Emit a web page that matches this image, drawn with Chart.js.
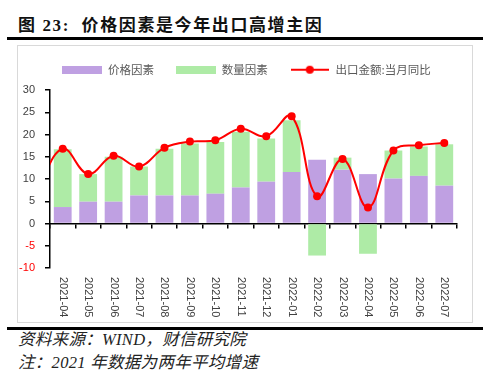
<!DOCTYPE html>
<html>
<head>
<meta charset="utf-8">
<script src="https://cdn.jsdelivr.net/npm/chart.js@4.4.0/dist/chart.umd.min.js"></script>
<style>
body { margin: 0; width: 500px; height: 381px; background: #fff; position: relative; overflow: hidden;
  font-family: "Liberation Serif", "Noto Sans CJK SC", serif; }
.title { position: absolute; left: 18px; top: 15px; line-height: 22px; font-size: 17px; font-weight: bold; letter-spacing: 1.6px; color: #111; }
.rule { position: absolute; left: 7px; width: 476px; height: 3px; background: #000; }
.box { position: absolute; left: 17px; top: 45px; width: 454px; height: 276px; border: 1px solid #d9d9d9; }
#wrap { position: absolute; left: 18px; top: 42px; width: 453px; height: 279px; }
.note { position: absolute; left: 18px; line-height: 22px; font-size: 16.5px; letter-spacing: 0.3px; font-style: italic; color: #222; }
</style>
</head>
<body>
<div class="title">图 23:&nbsp; 价格因素是今年出口高增主因</div>
<div class="rule" style="top:37px"></div>
<div class="box"></div>
<div id="wrap"><canvas id="chart"></canvas></div>
<div class="rule" style="top:327px"></div>
<div class="note" style="top:329px">资料来源：WIND，财信研究院</div>
<div class="note" style="top:352px">注：2021 年数据为两年平均增速</div>
<script>
// 2021-03 sits just left of the axis: only the start of the red line shows
var months = ['2021-03', '2021-04', '2021-05', '2021-06', '2021-07', '2021-08', '2021-09', '2021-10', '2021-11',
  '2021-12', '2022-01', '2022-02', '2022-03', '2022-04', '2022-05', '2022-06', '2022-07'];
var priceFactor = [null, 3.7, 4.9, 4.9, 6.3, 6.3, 6.3, 6.7, 8.1, 9.4, 11.6, 14.3, 12.1, 11.1, 10.1, 10.7, 8.5];
var volumeFactor = [null, 13.0, 6.2, 10.1, 6.5, 10.5, 11.7, 11.6, 12.5, 9.7, 11.6, -7.2, 2.7, -6.8, 6.3, 6.6, 9.3];
var exportYoy = [7.5, 16.8, 11.1, 15.2, 12.8, 17.0, 18.4, 18.7, 21.3, 19.6, 24.1, 6.1, 14.5, 3.6, 16.4, 17.6, 18.1];
var yMin = -10, yMax = 30, yStep = 5;

var purple = '#bfa0e2';
var green = '#aeeba6';
var red = '#ff0000';

function boxIcon(color) {
    var c = document.createElement('canvas');
    c.width = 40; c.height = 8;
    var g = c.getContext('2d');
    g.fillStyle = color;
    g.fillRect(0, 0, 40, 8);
    return c;
}

function lineIcon(color) {
    var c = document.createElement('canvas');
    c.width = 38; c.height = 10;
    var g = c.getContext('2d');
    g.strokeStyle = color;
    g.lineWidth = 2;
    g.beginPath(); g.moveTo(0, 5); g.lineTo(38, 5); g.stroke();
    g.fillStyle = color;
    g.beginPath(); g.arc(19, 5, 4, 0, Math.PI * 2); g.fill();
    return c;
}

var legendIcons = [boxIcon(purple), boxIcon(green), lineIcon(red)];

// a bit more room between legend and plot than chart.js gives,
// and the legend sits a little right of the canvas centre
var legendGap = {
    id: 'legendGap',
    afterInit: function(chart) {
        var fit = chart.legend.fit;
        chart.legend.fit = function() {
            fit.call(this);
            this.height += 4.5;
        };
    },
    afterLayout: function(chart) {
        chart.legend.left += 9;
        chart.legend.right += 9;
    }
};

// month labels under the plot, rotated clockwise like the excel original
var monthLabels = {
    id: 'monthLabels',
    afterDraw: function(chart) {
        var scale = chart.scales.x;
        var ctx = chart.ctx;
        ctx.save();
        ctx.font = '11px "Liberation Sans"';
        ctx.fillStyle = '#404040';
        ctx.textAlign = 'left';
        ctx.textBaseline = 'middle';
        scale.ticks.forEach(function(tick, i) {
            ctx.save();
            ctx.translate(scale.getPixelForTick(i), chart.chartArea.bottom + 9);
            ctx.rotate(Math.PI / 2);
            ctx.fillText(scale.getLabelForValue(tick.value), 0, 0);
            ctx.restore();
        });
        ctx.restore();
    }
};

var chart = new Chart(document.getElementById('chart'), {
    type: 'bar',
    data: {
        labels: months,
        datasets: [{
            label: '价格因素',
            data: priceFactor,
            backgroundColor: purple,
            barPercentage: 0.7,
            categoryPercentage: 1,
            stack: 'factors',
            order: 1
        }, {
            label: '数量因素',
            data: volumeFactor,
            backgroundColor: green,
            barPercentage: 0.7,
            categoryPercentage: 1,
            stack: 'factors',
            order: 1
        }, {
            type: 'line',
            label: '出口金额:当月同比',
            data: exportYoy,
            borderColor: red,
            borderWidth: 2,
            backgroundColor: red,
            pointRadius: 4,
            pointBorderWidth: 0,
            pointBackgroundColor: red,
            tension: 0.4,
            stack: 'yoy',
            order: 0
        }]
    },
    options: {
        responsive: true,
        maintainAspectRatio: false,
        animation: false,
        layout: {
            padding: { top: 0, right: 14, bottom: 0, left: 0 }
        },
        plugins: {
            tooltip: { enabled: false },
            legend: {
                position: 'top',
                labels: {
                    usePointStyle: true,
                    pointStyleWidth: 40,
                    padding: 22,
                    color: '#595959',
                    font: { family: '"Noto Sans CJK SC"', size: 11.5 },
                    generateLabels: function(chart) {
                        return chart.data.datasets.map(function(ds, i) {
                            return {
                                text: ds.label,
                                pointStyle: legendIcons[i],
                                fillStyle: 'transparent',
                                strokeStyle: 'transparent',
                                lineWidth: 0,
                                fontColor: '#595959',
                                hidden: false,
                                datasetIndex: i
                            };
                        });
                    }
                }
            }
        },
        scales: {
            x: {
                stacked: true,
                min: '2021-04',
                grid: { display: false },
                border: { display: false },
                ticks: { display: false },
                afterFit: function(scale) { scale.height = 53; }
            },
            x2: {
                type: 'category',
                position: { y: 0 },
                min: '2021-04',
                offset: true,
                z: 1,
                grid: { offset: true, drawOnChartArea: false, drawTicks: true, tickLength: 4, color: '#000', lineWidth: 1.5 },
                border: { color: '#000', width: 1.5 },
                ticks: { display: false }
            },
            y: {
                stacked: true,
                min: yMin,
                max: yMax,
                grid: { drawOnChartArea: false, drawTicks: true, tickLength: 5, color: '#000', lineWidth: 1.5 },
                border: { color: '#000', width: 1.5 },
                ticks: {
                    stepSize: yStep,
                    padding: 10,
                    font: { family: '"Liberation Sans"', size: 11 },
                    color: function(ctx) {
                        return ctx.tick && ctx.tick.value < 0 ? red : '#404040';
                    }
                },
                afterFit: function(scale) { scale.width = 32; }
            }
        }
    },
    plugins: [legendGap, monthLabels]
});
</script>
</body>
</html>
